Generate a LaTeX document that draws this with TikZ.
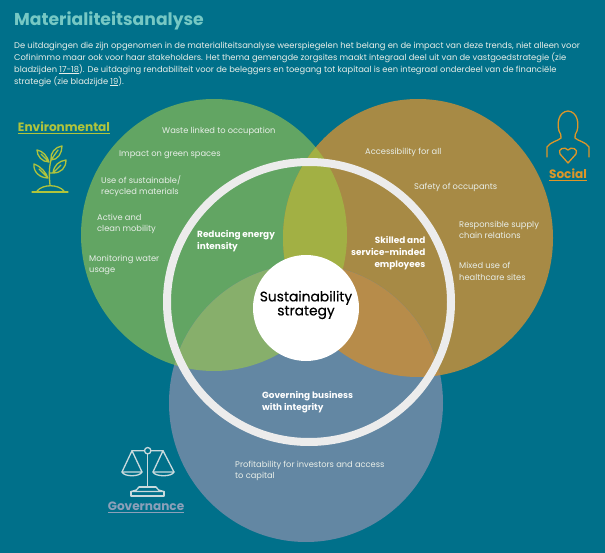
\documentclass[tikz,border=0pt]{standalone}
\usepackage{fontspec}
\setmainfont{Poppins}
\newfontfamily\medfont[FakeBold=0.35]{Poppins}
\usepackage{xcolor}
\definecolor{bgteal}{RGB}{0,112,138}
\definecolor{envgreen}{RGB}{98,165,99}
\definecolor{socbrown}{RGB}{167,138,69}
\definecolor{govblue}{RGB}{99,135,163}
\definecolor{mixgb}{RGB}{162,176,68}
\definecolor{mixgv}{RGB}{135,175,107}
\definecolor{mixbv}{RGB}{183,140,74}
\definecolor{ringgrey}{RGB}{236,236,236}
\definecolor{titleteal}{RGB}{118,200,196}
\definecolor{limegreen}{RGB}{176,196,60}
\definecolor{orangeline}{RGB}{222,150,40}
\definecolor{govtext}{RGB}{140,160,185}
\definecolor{textgrey}{RGB}{232,238,232}
\tikzset{
  item/.style={align=left,anchor=north west,inner sep=0pt,text=textgrey,font=\fontsize{8.3}{11.7}\selectfont},
  boldtext/.style={align=left,anchor=north west,inner sep=0pt,text=white,font=\fontsize{8.9}{11.7}\selectfont\bfseries},
  heading/.style={inner sep=0pt,font=\fontsize{12.1}{13}\selectfont\bfseries},
}
\begin{document}
\begin{tikzpicture}[x=1pt,y=-1pt]
    \useasboundingbox (0,0) rectangle (605,553);
    \fill[bgteal] (0,0) rectangle (605,553);
    \node[anchor=west,inner sep=0pt,text=titleteal,font=\fontsize{17.2}{19}\selectfont\bfseries] (title) at (14,20.5) {Materialiteitsanalyse};
    \node[anchor=north west,inner sep=0pt,align=left,text=textgrey,font=\fontsize{8.33}{12}\selectfont] (intro) at (14,41.5) {De uitdagingen die zijn opgenomen in de materialiteitsanalyse weerspiegelen het belang en de impact van deze trends, niet alleen voor\\
    Cofinimmo maar ook voor haar stakeholders. Het thema gemengde zorgsites maakt integraal deel uit van de vastgoedstrategie (zie\\
    bladzijden \underline{17-18}). De uitdaging rendabiliteit voor de beleggers en toegang tot kapitaal is een integraal onderdeel van de financiële\\
    strategie (zie bladzijde \underline{19}).};
    \fill[envgreen] (214,235) ellipse [x radius=133,y radius=136];
    \fill[socbrown] (418,238) ellipse [x radius=135,y radius=139];
    \fill[govblue] (306,403) ellipse [x radius=137,y radius=139];
    \begin{scope}
    \clip (214,235) ellipse [x radius=133,y radius=136];
    \fill[mixgb] (418,238) ellipse [x radius=135,y radius=139];
    \fill[mixgv] (306,403) ellipse [x radius=137,y radius=139];
    \end{scope}
    \begin{scope}
    \clip (418,238) ellipse [x radius=135,y radius=139];
    \fill[mixbv] (306,403) ellipse [x radius=137,y radius=139];
    \end{scope}
    \draw[ringgrey,line width=8] (309,302) ellipse [x radius=142,y radius=140];
    \fill[white] (306,308) circle (53);
    \node[align=center,inner sep=0pt,text=black,font=\fontsize{13.8}{13}\selectfont\medfont] (centre) at (306,305) {Sustainability\\strategy};
    \node[heading,text=limegreen] (envlabel) at (64,128) {\underline{Environmental}};
    \node[heading,text=orangeline] (soclabel) at (568,175) {\underline{Social}};
    \node[heading,text=govtext] (govlabel) at (146,507) {\underline{Governance}};
    \node[item] (waste) at (162,127) {Waste linked to occupation};
    \node[item] (green) at (119,151) {Impact on green spaces};
    \node[item] (materials) at (101,175) {Use of sustainable/\\recycled materials};
    \node[item] (mobility) at (97,213.5) {Active and\\clean mobility};
    \node[item] (water) at (89,254.5) {Monitoring water\\usage};
    \node[boldtext] (energy) at (197,230.5) {Reducing energy\\intensity};
    \node[item] (access) at (365,148) {Accessibility for all};
    \node[item] (safety) at (414,182.5) {Safety of occupants};
    \node[item] (supply) at (459,220.5) {Responsible supply\\chain relations};
    \node[item] (mixed) at (459,262) {Mixed use of\\healthcare sites};
    \node[boldtext,align=right,anchor=north east] (skilled) at (425.5,236.5) {Skilled and\\service-minded\\employees};
    \node[boldtext] (governing) at (262,391) {Governing business\\with integrity};
    \node[item] (profit) at (235,460.5) {Profitability for investors and access\\to capital};
    \begin{scope}[limegreen,line width=1.3,line join=round,line cap=round]
    \draw (32,192) -- (68,192);
    \draw (37,191) .. controls (43,184) and (58,184) .. (64,191);
    \draw (50,185) .. controls (49,175) and (49,168) .. (51,160);
    \draw (48,178) .. controls (46,173) and (42,167) .. (34,164) .. controls (33,172) and (40,178) .. (48,178) -- (39,169);
    \draw (50,173) -- (53,173) .. controls (61,173) and (66,168) .. (66,160) .. controls (59,161) and (54,165) .. (53,173) -- (61,165);
    \draw (49,162) .. controls (47,156) and (43,151) .. (37,150) .. controls (37,156) and (42,162) .. (49,162) -- (41,154);
    \draw (51,160) .. controls (58,160) and (62,153) .. (62,146) .. controls (55,147) and (50,153) .. (51,160) -- (58,150);
    \end{scope}
    \begin{scope}[orangeline,line width=1.3,line join=round,line cap=round]
    \draw (547,157) -- (547,147) .. controls (550,142) and (558,141) .. (561,138) .. controls (562,135) and (560,134) .. (559,131) .. controls (557,124) and (558,112) .. (568,111) .. controls (578,112) and (579,124) .. (577,131) .. controls (576,134) and (574,135) .. (575,138) .. controls (578,141) and (586,142) .. (589,147) -- (589,157);
    \draw (568,163) -- (560,154) .. controls (557,149) and (565,146) .. (568,150) .. controls (571,146) and (579,149) .. (576,154) -- cycle;
    \end{scope}
    \begin{scope}[ringgrey!85!bgteal,line width=1.3,line join=round,line cap=round]
    \draw (147.7,450.7) circle (3.2);
    \draw (144.5,450.7) -- (132,450.7) -- (122,472);
    \draw (132,450.7) -- (142,472);
    \draw (122,472) .. controls (124,477) and (140,477) .. (142,472) -- cycle;
    \draw (151,450.7) -- (163,450.7) -- (153,472);
    \draw (163,450.7) -- (174,472);
    \draw (153,472) .. controls (155,477) and (172,477) .. (174,472) -- cycle;
    \draw (147.7,454) -- (147.7,487);
    \draw (139,487) -- (156,487);
    \draw (139,487) .. controls (137,490) .. (131,491.5) -- (164,491.5) .. controls (158,490) .. (156,487);
    \draw (131,491.5) -- (131,496) -- (164,496) -- (164,491.5);
    \end{scope}
\end{tikzpicture}
\end{document}
